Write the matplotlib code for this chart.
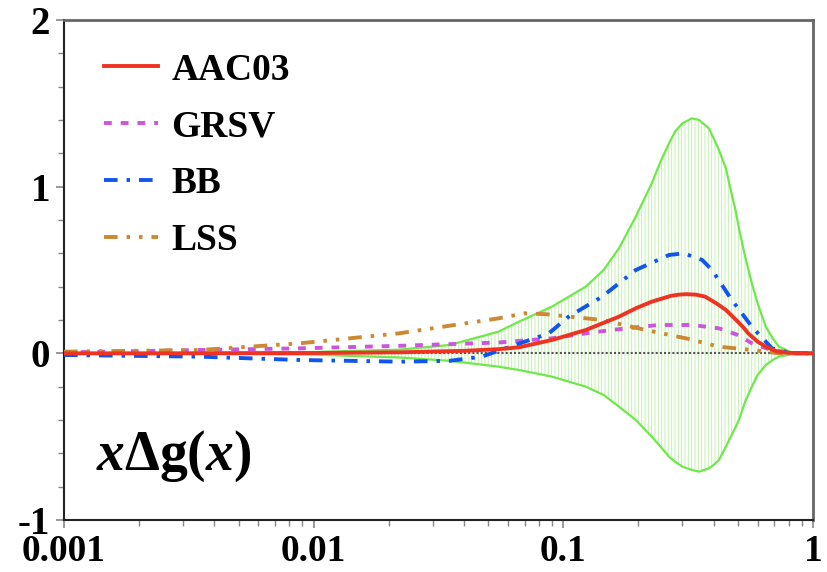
import numpy as np
import matplotlib.pyplot as plt

plt.rcParams["font.family"] = ["Liberation Serif", "DejaVu Serif"]
plt.rcParams["font.weight"] = "bold"
plt.rcParams["hatch.linewidth"] = 0.7
plt.rcParams["mathtext.fontset"] = "custom"
plt.rcParams["mathtext.rm"] = "Liberation Serif:bold"
plt.rcParams["mathtext.it"] = "Liberation Serif:italic:bold"

# uncertainty band of AAC03
band_x = [0.001, 0.003, 0.01, 0.022, 0.035, 0.055, 0.0664, 0.09, 0.123, 0.145,
          0.167, 0.195, 0.226, 0.245, 0.265, 0.28, 0.30, 0.327, 0.35, 0.383,
          0.40, 0.42, 0.448, 0.465, 0.491, 0.505, 0.535, 0.569, 0.60, 0.647,
          0.69, 0.73, 0.823, 1.0]
band_hi = [0.0, 0.002, 0.008, 0.022, 0.05, 0.13, 0.19, 0.28, 0.40, 0.50,
           0.63, 0.82, 1.02, 1.15, 1.26, 1.33, 1.38, 1.41, 1.40, 1.35,
           1.29, 1.22, 1.11, 1.00, 0.85, 0.75, 0.58, 0.42, 0.30, 0.16,
           0.09, 0.04, 0.005, 0.0]
band_lo = [0.0, -0.002, -0.008, -0.025, -0.045, -0.08, -0.10, -0.14, -0.20, -0.25,
           -0.32, -0.40, -0.50, -0.56, -0.62, -0.65, -0.68, -0.70, -0.71, -0.69,
           -0.67, -0.64, -0.56, -0.51, -0.44, -0.40, -0.29, -0.20, -0.13, -0.07,
           -0.04, -0.02, -0.005, 0.0]

aac_x = [0.001, 0.003, 0.01, 0.022, 0.04, 0.055, 0.0664, 0.09, 0.123, 0.167, 0.195,
         0.226, 0.27, 0.29, 0.31, 0.34, 0.37, 0.41, 0.448, 0.5, 0.53, 0.55, 0.6,
         0.647, 0.72, 0.8, 1.0]
aac_y = [0.0, 0.0, 0.002, 0.006, 0.015, 0.025, 0.036, 0.08, 0.14, 0.22, 0.27,
         0.31, 0.345, 0.352, 0.355, 0.352, 0.34, 0.30, 0.26, 0.19, 0.15, 0.12, 0.07,
         0.04, 0.01, 0.003, 0.0]

grsv_x = [0.001, 0.0035, 0.0088, 0.022, 0.055, 0.09, 0.13, 0.167, 0.24, 0.33,
          0.42, 0.5, 0.57, 0.68, 0.85, 1.0]
grsv_y = [0.005, 0.02, 0.03, 0.045, 0.065, 0.09, 0.125, 0.145, 0.17, 0.17,
          0.15, 0.11, 0.06, 0.02, 0.0, 0.0]

bb_x = [0.001, 0.0035, 0.0088, 0.022, 0.035, 0.047, 0.06, 0.0875, 0.105, 0.143,
        0.195, 0.265, 0.304, 0.36, 0.394, 0.473, 0.569, 0.685, 0.82, 1.0]
bb_y = [-0.01, -0.02, -0.04, -0.05, -0.045, -0.02, 0.035, 0.12, 0.22, 0.34,
        0.50, 0.59, 0.60, 0.56, 0.50, 0.32, 0.16, 0.03, 0.0, 0.0]

lss_x = [0.001, 0.0035, 0.0088, 0.022, 0.055, 0.07, 0.085, 0.143, 0.214, 0.31,
         0.42, 0.57, 0.73, 1.0]
lss_y = [0.01, 0.02, 0.06, 0.12, 0.21, 0.24, 0.235, 0.20, 0.14, 0.09,
         0.04, 0.02, 0.0, 0.0]

fig = plt.figure(figsize=(8.27, 5.72), dpi=100)
ax = fig.add_axes([64 / 827, 52 / 572, 749 / 827, 500 / 572])

ax.fill_between(band_x, band_lo, band_hi, facecolor="none", edgecolor="#c4f0b0",
                hatch="|||||", linewidth=0, zorder=1)
ax.plot(band_x, band_hi, color="#6ee84a", lw=1.6, zorder=2)
ax.plot(band_x, band_lo, color="#6ee84a", lw=1.6, zorder=2)
ax.axhline(0, color="#555555", lw=1.5, ls=(0, (1, 1)), zorder=3)

ax.plot(aac_x, aac_y, color="#ee3322", lw=2.8, label="AAC03", zorder=6)
ax.plot(grsv_x, grsv_y, color="#cc55dd", lw=2.8, ls=(0, (2, 2.3)), label="GRSV", zorder=4)
ax.plot(bb_x, bb_y, color="#1155ee", lw=2.8, ls=(0, (3.5, 2.3, 0.9, 2.3)), label="BB", zorder=5)
ax.plot(lss_x, lss_y, color="#cc8833", lw=2.8,
        ls=(0, (3.5, 2.3, 0.9, 2.3, 0.9, 2.3)), label="LSS", zorder=4)

ax.set_xscale("log")
ax.set_xlim(0.001, 1)
ax.set_ylim(-1, 2)
ax.set_yticks([-1, 0, 1, 2])
ax.set_yticklabels(["-1", "0", "1", "2"])
ax.set_yticks(np.arange(-1, 2.01, 0.2), minor=True)
ax.set_xticks([0.001, 0.01, 0.1, 1])
ax.set_xticklabels(["0.001", "0.01", "0.1", "1"])

ax.tick_params(which="both", direction="out", color="#888888", labelsize=28, pad=4)
ax.tick_params(axis="x", which="major", pad=4, labelsize=27)
ax.tick_params(which="major", length=6, width=1.2)
ax.tick_params(which="minor", length=4, width=1.0)
for side in ["top", "right"]:
    ax.spines[side].set_color("#666666")
    ax.spines[side].set_linewidth(2)
for side in ["left", "bottom"]:
    ax.spines[side].set_color("#222222")
    ax.spines[side].set_linewidth(1.5)

ax.legend(loc="upper left", bbox_to_anchor=(0.053, 0.935), frameon=False,
          prop={"size": 27, "weight": "bold"}, handlelength=1.45,
          handletextpad=0.35, labelspacing=0.58, borderpad=0, borderaxespad=0)

ax.text(0.043, 0.10, r"$x\Delta\mathrm{g}(x)$", transform=ax.transAxes,
        fontsize=40, va="baseline", ha="left")

fig.savefig("out.png", dpi=100)
